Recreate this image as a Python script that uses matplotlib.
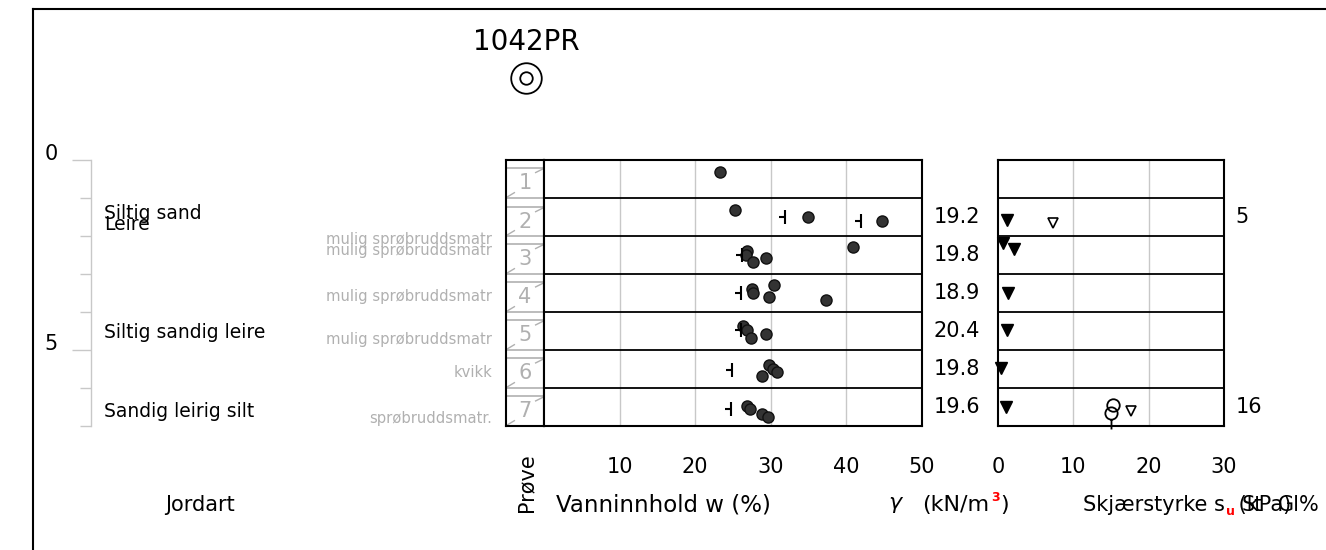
import matplotlib
matplotlib.use('Agg')
import matplotlib.pyplot as plt
import numpy as np
from matplotlib.path import Path
from matplotlib.lines import Line2D
from matplotlib import transforms

plt.rcParams['font.family'] = ['DejaVu Sans']

W, H = 1326, 550

# --- data ---
dybde_max = 7
prove_nr = [1, 2, 3, 4, 5, 6, 7]
prove_topp = [0.21, 1.24, 2.21, 3.22, 4.22, 5.22, 6.22]
prove_bunn = [1.0, 2.0, 3.0, 4.0, 5.0, 6.0, 7.0]

jordart = ['Siltig sand', 'Leire', 'Siltig sandig leire', 'Sandig leirig silt']
jordart_dybde = [1.40, 1.71, 4.54, 6.63]

merknad = ['mulig sprøbruddsmatr', 'mulig sprøbruddsmatr', 'mulig sprøbruddsmatr',
           'mulig sprøbruddsmatr', 'kvikk', 'sprøbruddsmatr.']
merknad_dybde = [2.10, 2.39, 3.58, 4.73, 5.58, 6.81]

# vanninnhold (%)
w_dybde = [0.32, 1.32, 1.50, 1.61, 2.29, 2.39, 2.50, 2.58, 2.68,
           3.29, 3.39, 3.50, 3.61, 3.68, 4.37, 4.47, 4.58, 4.68,
           5.39, 5.50, 5.58, 5.68, 6.47, 6.55, 6.68, 6.76]
w_verdi = [23.3, 25.3, 34.9, 44.7, 40.9, 26.8, 26.7, 29.4, 27.6,
           30.4, 27.5, 27.7, 29.8, 37.3, 26.3, 26.9, 29.3, 27.4,
           29.7, 30.3, 30.8, 28.9, 26.8, 27.2, 28.8, 29.6]
wp_dybde = [1.50, 1.61, 2.50, 3.50, 4.47, 5.53, 6.55]
wp_verdi = [31.9, 41.9, 26.2, 26.1, 26.1, 24.9, 24.7]

# romvekt
gamma_dybde = [1.5, 2.5, 3.5, 4.5, 5.5, 6.5]
gamma_verdi = [19.2, 19.8, 18.9, 20.4, 19.8, 19.6]

# skjaerstyrke (kPa)
su_uf_dybde = [1.58, 2.18, 2.34, 3.50, 4.47, 5.47, 6.50]
su_uf_verdi = [1.2, 0.7, 2.1, 1.3, 1.2, 0.4, 1.1]
su_om_dybde = [1.66, 6.61]
su_om_verdi = [7.3, 17.7]
su_o_dybde = [6.45]
su_o_verdi = [15.3]
su_os_dybde = [6.66]
su_os_verdi = [15.0]
st_dybde = [1.5, 6.5]
st_verdi = [5, 16]

w_ticks = [10, 20, 30, 40, 50]
su_ticks = [0, 10, 20, 30]

# --- layout helpers (pixels) ---
TOP, BOT = 160, 426


def rect(x0, x1):
    return [x0 / W, 1 - BOT / H, (x1 - x0) / W, (BOT - TOP) / H]


def fx(x):
    return x / W


def fy(y):
    return 1 - y / H


fig = plt.figure(figsize=(W / 100, H / 100), dpi=100)

GRID = '#c8c8c8'
GRAY = '#b0b0b0'
FS = 15

# border
fig.add_artist(Line2D([fx(33), 1], [fy(9), fy(9)], color='black', lw=1.5))
fig.add_artist(Line2D([fx(33), fx(33)], [fy(9), 0], color='black', lw=1.5))

# title + symbol
fig.text(fx(526), fy(42), '1042PR', ha='center', va='center', fontsize=20)
fig.add_artist(Line2D([fx(526)], [fy(78)], marker='o', ms=22, mfc='none', mec='black', mew=1.3))
fig.add_artist(Line2D([fx(526)], [fy(78)], marker='o', ms=9, mfc='none', mec='black', mew=1.3))

# --- depth axis + soil descriptions ---
ax_d = fig.add_axes(rect(91, 506))
ax_d.set_ylim(dybde_max, 0)
ax_d.set_xlim(0, 1)
for s in ['top', 'right', 'bottom']:
    ax_d.spines[s].set_visible(False)
ax_d.spines['left'].set_color(GRID)
ax_d.spines['left'].set_linewidth(1)
ax_d.set_xticks([])
ax_d.set_yticks([0, 5])
ax_d.set_yticks([1, 2, 3, 4, 6, 7], minor=True)
ax_d.tick_params(axis='y', which='major', length=14, color=GRID, width=1, pad=10, labelsize=FS)
ax_d.tick_params(axis='y', which='minor', length=8, color=GRID, width=1)
for t in ax_d.get_yticklabels():
    t.set_va('baseline')
ax_d.patch.set_visible(False)

for txt, d in zip(jordart, jordart_dybde):
    ax_d.text(0.031, d, txt, ha='left', va='center', fontsize=13.5)
for txt, d in zip(merknad, merknad_dybde):
    ax_d.text(0.966, d, txt, ha='right', va='center', fontsize=10.6, color=GRAY)

# --- Prove column ---
ax_p = fig.add_axes(rect(506, 544))
ax_p.set_ylim(dybde_max, 0)
ax_p.set_xlim(0, 1)
ax_p.set_xticks([])
ax_p.set_yticks([])
for s in ax_p.spines.values():
    s.set_linewidth(1.5)
for nr, t, b in zip(prove_nr, prove_topp, prove_bunn):
    ax_p.hlines([t, b], 0, 1, color=GRAY, lw=1.2)
    ax_p.plot([0.78, 0.98], [t + 0.12, t + 0.02], color=GRAY, lw=1)
    ax_p.plot([0.02, 0.22], [b - 0.02, b - 0.14], color=GRAY, lw=1)
    ax_p.text(0.5, (t + b) / 2, str(nr), ha='center', va='center', fontsize=FS, color=GRAY)

# --- water content ---
ax_w = fig.add_axes(rect(544, 922))
ax_w.set_xlim(0, 50)
ax_w.set_ylim(dybde_max, 0)
ax_w.set_xticks(w_ticks)
ax_w.set_yticks([])
ax_w.tick_params(axis='x', length=0, pad=22, labelsize=FS)
for x in w_ticks[:-1]:
    ax_w.axvline(x, color=GRID, lw=1, zorder=0)
for d in range(1, dybde_max):
    ax_w.axhline(d, color='black', lw=1.3)
for s in ax_w.spines.values():
    s.set_linewidth(1.5)

ax_w.plot(w_verdi, w_dybde, 'o', ms=8, color='#333333', mec='#111111', clip_on=False)
wp_marker = Path([(0, -1), (0, 1), (0, 0), (-0.9, 0)],
                 [Path.MOVETO, Path.LINETO, Path.MOVETO, Path.LINETO])
ax_w.plot(wp_verdi, wp_dybde, ls='none', marker=wp_marker, ms=10, mew=1.5, color='black')

# gamma values
tr_g = transforms.blended_transform_factory(ax_w.transAxes, ax_w.transData)
for d, g in zip(gamma_dybde, gamma_verdi):
    ax_w.text(1.03, d, f'{g:.1f}', transform=tr_g, ha='left', va='center', fontsize=FS)

# --- shear strength ---
ax_s = fig.add_axes(rect(998, 1224))
ax_s.set_xlim(0, 30)
ax_s.set_ylim(dybde_max, 0)
ax_s.set_xticks(su_ticks)
ax_s.set_yticks([])
ax_s.tick_params(axis='x', length=0, pad=22, labelsize=FS)
for x in su_ticks[1:-1]:
    ax_s.axvline(x, color=GRID, lw=1, zorder=0)
for d in range(1, dybde_max):
    ax_s.axhline(d, color='black', lw=1.3)
for s in ax_s.spines.values():
    s.set_linewidth(1.5)

ax_s.plot(su_uf_verdi, su_uf_dybde, 'v', ms=9, color='black', clip_on=False)
ax_s.plot(su_om_verdi, su_om_dybde, 'v', ms=7, mfc='white', mec='black', mew=1.2, clip_on=False)
ax_s.plot(su_o_verdi, su_o_dybde, 'o', ms=9, mfc='none', mec='black', mew=1.3, clip_on=False)
stem = Path.make_compound_path(Path.unit_circle(),
                               Path([(0, -1), (0, -2.6)], [Path.MOVETO, Path.LINETO]))
ax_s.plot(su_os_verdi, su_os_dybde, ls='none', marker=stem, ms=23, mfc='none', mec='black',
          mew=1.3, clip_on=False)

tr_s = transforms.blended_transform_factory(ax_s.transAxes, ax_s.transData)
for d, st in zip(st_dybde, st_verdi):
    ax_s.text(1.05, d, str(st), transform=tr_s, ha='left', va='center', fontsize=FS)

# --- bottom labels ---
YL = fy(505)
fig.text(fx(200), YL, 'Jordart', ha='center', va='center', fontsize=FS)
fig.text(fx(526), fy(483), 'Prøve', ha='center', va='center', rotation=90, fontsize=FS)
fig.text(fx(556), YL, 'Vanninnhold w (%)', ha='left', va='center', fontsize=16.5)

fig.text(fx(888), YL, r'$\gamma$', ha='left', va='center', fontsize=16)
g1 = fig.text(fx(922), YL, '(kN/m', ha='left', va='center', fontsize=16)
an3 = plt.annotate('3', xy=(1, 0.55), xycoords=g1, xytext=(1.5, 0), textcoords='offset points',
                   color='red', fontsize=9, fontweight='bold', ha='left', va='bottom')
plt.annotate(')', xy=(1, 0), xycoords=(an3, g1), xytext=(0.5, 0), textcoords='offset points',
             ha='left', va='bottom', fontsize=16, annotation_clip=False)

s1 = fig.text(fx(1083), YL, 'Skjærstyrke s', ha='left', va='center', fontsize=FS)
su = plt.annotate('u', xy=(1, 0), xycoords=s1, xytext=(1, -2), textcoords='offset points',
                  color='red', fontsize=9, fontweight='bold', ha='left', va='bottom')
plt.annotate(' (kPa)', xy=(1, 0), xycoords=(su, s1), xytext=(-2, 0), textcoords='offset points',
             ha='left', va='bottom', fontsize=FS)
fig.text(fx(1242), YL, 'St', ha='left', va='center', fontsize=FS)
fig.text(fx(1320), YL, 'Gl%', ha='right', va='center', fontsize=FS)

fig.savefig('out.png', dpi=100)
